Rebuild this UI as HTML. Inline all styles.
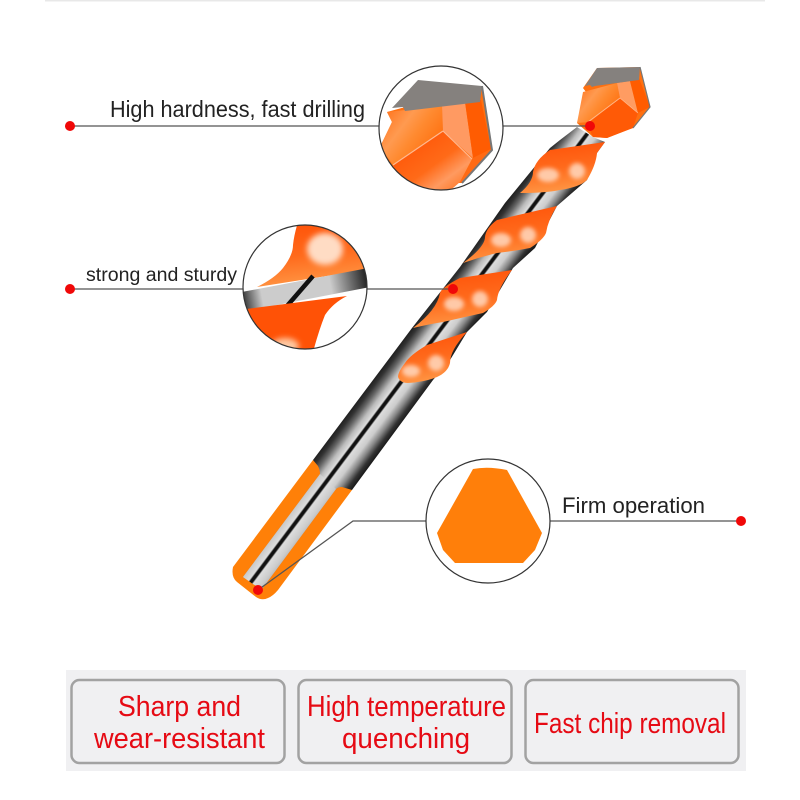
<!DOCTYPE html>
<html><head><meta charset="utf-8"><style>html,body{margin:0;padding:0;background:#fff}svg{display:block}</style></head><body>
<svg width="800" height="800" viewBox="0 0 800 800" xmlns="http://www.w3.org/2000/svg" font-family="'Liberation Sans',sans-serif">
<defs>
<linearGradient id="sh" gradientUnits="userSpaceOnUse" x1="380.8" y1="368.6" x2="420" y2="398">
<stop offset="0" stop-color="#1c1c1c"/><stop offset=".1" stop-color="#333"/><stop offset=".2" stop-color="#666"/><stop offset=".33" stop-color="#bbb"/><stop offset=".44" stop-color="#ddd"/><stop offset=".47" stop-color="#111"/><stop offset=".52" stop-color="#111"/><stop offset=".55" stop-color="#ddd"/><stop offset=".68" stop-color="#ccc"/><stop offset=".8" stop-color="#888"/><stop offset=".92" stop-color="#333"/><stop offset="1" stop-color="#1c1c1c"/></linearGradient>
<linearGradient id="sl" gradientUnits="userSpaceOnUse" x1="380.8" y1="368.6" x2="420" y2="398">
<stop offset=".2" stop-color="#b4b4b4"/><stop offset=".32" stop-color="#ccc"/><stop offset=".44" stop-color="#ddd"/><stop offset=".47" stop-color="#111"/><stop offset=".52" stop-color="#111"/><stop offset=".55" stop-color="#ddd"/><stop offset=".7" stop-color="#ccc"/><stop offset=".8" stop-color="#b4b4b4"/></linearGradient>
<linearGradient id="lobe" x1=".35" y1="0" x2=".55" y2="1"><stop offset="0" stop-color="#ff5208"/><stop offset=".5" stop-color="#ff6a1c"/><stop offset="1" stop-color="#ff9a48"/></linearGradient>
<linearGradient id="band" gradientUnits="userSpaceOnUse" x1="245" y1="300" x2="367" y2="278"><stop offset="0" stop-color="#444"/><stop offset=".14" stop-color="#ccc"/><stop offset=".7" stop-color="#ccc"/><stop offset=".88" stop-color="#666"/><stop offset="1" stop-color="#222"/></linearGradient>
<linearGradient id="fA" x1="0" y1="0" x2="1" y2=".7"><stop offset="0" stop-color="#ff6a10"/><stop offset=".4" stop-color="#ff9a50"/><stop offset=".6" stop-color="#ff8a30"/><stop offset="1" stop-color="#ff6a08"/></linearGradient>
<linearGradient id="fB" x1="0" y1="0" x2=".9" y2="1"><stop offset="0" stop-color="#ff4c00"/><stop offset=".55" stop-color="#ff6a18"/><stop offset=".75" stop-color="#ff9a60"/><stop offset="1" stop-color="#ff6a10"/></linearGradient>
<filter id="b2" x="-50%" y="-50%" width="200%" height="200%"><feGaussianBlur stdDeviation="2"/></filter>
<filter id="b3" x="-50%" y="-50%" width="200%" height="200%"><feGaussianBlur stdDeviation="3"/></filter>
<clipPath id="c2"><circle cx="305" cy="287" r="62"/></clipPath>
<clipPath id="c1"><circle cx="441" cy="128" r="62"/></clipPath>
</defs>
<rect x="45" y="0" width="720" height="1.5" fill="#e8e8e8"/>

<!-- shank -->
<path d="M313 460L233 567Q231 577 237 582L256 597Q262 601 268 598Q273 596 278 590L352 490Z" fill="#ff8008"/>
<!-- shaft -->
<path d="M313 460L318 466Q320 470 320 474L243 577L253 584L262 589L336 489Q338 487 342 487L352 490L433 380L450 360L467 332L487 312L513 268L535 248L557 206L587 180L597 153L605 142L593 137L577 127L560 140L550 148L505 203L460 267L412 328Z" fill="url(#sh)"/>
<!-- slot -->
<path d="M320 474L243 577L253 584L262 589L336 489Z" fill="url(#sl)"/>

<!-- tip -->
<path d="M583 88L586 92L585 96L577 123L593 137L607 138L627 130L633 128L650 107L640 67L597 68Z" fill="#ff7010"/>
<path d="M583 92L617 83L620 98L590 122L577 123Z" fill="url(#fA)"/>
<path d="M620 98L638 113L633 128L607 138L593 137L587 124Z" fill="#ff5a06"/>
<path d="M617 83L630 81L638 113L620 98Z" fill="#ff9c62"/>
<path d="M630 81L639 78L650 107L638 113Z" fill="#ff5c00"/>
<path d="M620 98L588 122" stroke="#ffb688" stroke-width="1"/>
<path d="M620 98L638 113" stroke="#ffb688" stroke-width=".8"/>
<path d="M597 68L640 67L639 80L595 86L592 87L590 85L585 86Z" fill="#85817e"/>
<path d="M640 67L650 107L633 128" stroke="#777" stroke-width="1.2" fill="none"/>

<!-- lobes -->
<path d="M605 142L550 150Q535 160 533 172Q533 182 520 193Q545 193 560 190Q580 187 587 180Q596 165 597 153Z" fill="url(#lobe)"/>
<path d="M557 206L497 220Q486 228 485 237Q485 247 463 263Q480 257 497 253Q515 251 530 248Q543 240 546 233Q548 220 557 206Z" fill="url(#lobe)"/>
<path d="M512 270L460 278Q442 287 440 293Q437 310 413 328Q430 324 443 322Q465 317 483 313Q495 306 497 300Q498 288 512 270Z" fill="url(#lobe)"/>
<path d="M467 332L427 345Q410 355 405 363Q398 372 398 377Q400 383 408 383Q425 382 437 377Q448 372 450 363Q450 350 467 332Z" fill="url(#lobe)"/>
<g fill="#ffd9c0" filter="url(#b2)" opacity=".85">
<ellipse cx="548" cy="175" rx="11" ry="7"/><ellipse cx="577" cy="171" rx="8" ry="8"/>
<ellipse cx="501" cy="240" rx="10" ry="7"/><ellipse cx="528" cy="235" rx="8" ry="8"/>
<ellipse cx="454" cy="304" rx="10" ry="7"/><ellipse cx="480" cy="299" rx="8" ry="8"/>
<ellipse cx="411" cy="371" rx="9" ry="6"/><ellipse cx="436" cy="363" rx="8" ry="8"/>
</g>

<!-- leader lines -->
<g stroke="#555" stroke-width="1.3" fill="none">
<path d="M70 126H379M503 126H590"/>
<path d="M70 289H243M367 289H453"/>
<path d="M258 590L353 521H427M550 521H741"/>
</g>

<!-- dots -->
<g fill="#f00808">
<circle cx="70" cy="126" r="5"/><circle cx="590" cy="126" r="5"/>
<circle cx="70" cy="289" r="5"/><circle cx="453" cy="289" r="5"/>
<circle cx="258" cy="590" r="5"/><circle cx="741" cy="521" r="5"/>
</g>

<!-- callout 1 -->
<circle cx="441" cy="128" r="62" fill="#fff"/>
<g clip-path="url(#c1)">
<path d="M387 112L392 122L380 147L380 170L405 195L440 195L450 183L457 183L462 183L492 150L482 86Z" fill="#ff7010"/>
<path d="M387 112L405 110L442 106L443 131L393 165L380 147L392 122Z" fill="url(#fA)"/>
<path d="M443 131L472 159L460 182L445 195L405 195L393 165Z" fill="url(#fB)"/>
<path d="M442 106L465 102L473 158L443 131Z" fill="#ff9a62"/>
<path d="M465 102L481 100L491 149L473 158Z" fill="#ff5c02"/>
<path d="M473 158L491 149L462 183L460 182Z" fill="#ff6a14"/>
<path d="M443 131L393 165M443 131L472 159" stroke="#ffb890" stroke-width="1.2" fill="none"/>
<path d="M418 80L482 86L480 102L405 111L403 107L392 108Z" fill="#85817e"/>
<path d="M482 86L492 150L462 183" stroke="#777" stroke-width="2" fill="none"/>
</g>
<circle cx="441" cy="128" r="62" fill="none" stroke="#333" stroke-width="1.2"/>

<!-- callout 2 -->
<circle cx="305" cy="287" r="62" fill="#fff"/>
<g clip-path="url(#c2)">
<path d="M298 222L368 222L365 270L257 287Q275 278 283 268Q293 255 293 245Q294 235 298 222Z" fill="url(#lobe)"/>
<ellipse cx="325" cy="249" rx="18" ry="16" fill="#ffdcc4" filter="url(#b3)"/>
<path d="M242 292L368 268L370 287L246 311Z" fill="url(#band)"/>
<path d="M287 306L313 276" stroke="#111" stroke-width="4.5"/>
<path d="M246 309L347 296Q333 303 325 315Q319 330 313 352L270 356L240 330Z" fill="#ff5206"/>
<ellipse cx="285" cy="346" rx="14" ry="8" fill="#ffc8a0" filter="url(#b3)"/>
</g>
<circle cx="305" cy="287" r="62" fill="none" stroke="#333" stroke-width="1.2"/>

<!-- callout 3 -->
<circle cx="488" cy="521" r="62" fill="#fff" stroke="#333" stroke-width="1.2"/>
<path d="M473 469Q488 466 507 470L542 533L535 550L523 563H455L443 550L437 533Z" fill="#ff7f0a"/>

<!-- labels -->
<g fill="#222">
<text x="110" y="117" font-size="23" textLength="255" lengthAdjust="spacingAndGlyphs">High hardness, fast drilling</text>
<text x="86" y="281" font-size="19" textLength="151" lengthAdjust="spacingAndGlyphs">strong and sturdy</text>
<text x="562" y="513" font-size="22" textLength="143" lengthAdjust="spacingAndGlyphs">Firm operation</text>
</g>

<!-- bottom panel -->
<rect x="66" y="670" width="680" height="101" fill="#f0f0f2"/>
<g fill="#f0f0f2" stroke="#a2a2a2" stroke-width="2.5">
<rect x="71.5" y="680" width="213" height="83" rx="8"/>
<rect x="298.5" y="680" width="213" height="83" rx="8"/>
<rect x="525.5" y="680" width="213" height="83" rx="8"/>
</g>
<g fill="#e60a14" font-size="29">
<text x="118" y="716" textLength="123" lengthAdjust="spacingAndGlyphs">Sharp and</text>
<text x="94" y="748" textLength="171" lengthAdjust="spacingAndGlyphs">wear-resistant</text>
<text x="307" y="716" textLength="199" lengthAdjust="spacingAndGlyphs">High temperature</text>
<text x="342" y="748" textLength="128" lengthAdjust="spacingAndGlyphs">quenching</text>
<text x="534" y="733" textLength="192" lengthAdjust="spacingAndGlyphs">Fast chip removal</text>
</g>
</svg>
</body></html>
